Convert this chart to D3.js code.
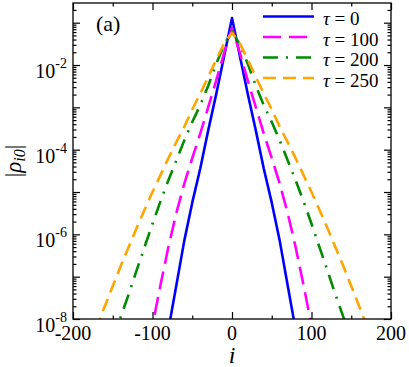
<!DOCTYPE html>
<html>
<head>
<meta charset="utf-8">
<script src="https://cdn.jsdelivr.net/npm/d3@7"></script>
<style>
  html, body { margin: 0; padding: 0; background: #fff; }
  svg { display: block; }
  svg text, svg tspan { font-family: "Liberation Serif"; }
</style>
</head>
<body>
<svg id="chart" width="409" height="367"></svg>
<script>
// ---- data ----
const sites = d3.range(-180, 181, 10);
const tauLabels = ["0", "100", "200", "250"];
const rhoTau0 = [null,null,null,null,null,null,null,null,null,
  5.0e-10,5.6e-9,6.3e-8,7.1e-7,5.6e-6,3.55e-5,2.82e-4,2.0e-3,1.58e-2,
  0.129,
  1.58e-2,2.0e-3,2.82e-4,3.55e-5,5.6e-6,7.1e-7,6.3e-8,5.6e-9,5.0e-10,
  null,null,null,null,null,null,null,null,null];
const rhoTau100 = [null,null,null,null,null,null,null,
  7.9e-10,7.1e-9,6.3e-8,5.0e-7,3.2e-6,1.58e-5,6.3e-5,2.4e-4,1.0e-3,4.2e-3,1.9e-2,
  7.6e-2,
  1.9e-2,4.2e-3,1.0e-3,2.4e-4,6.3e-5,1.58e-5,3.2e-6,5.0e-7,6.3e-8,7.1e-9,7.9e-10,
  null,null,null,null,null,null,null];
const rhoTau200 = [null,null,null,
  3.2e-9,1.12e-8,3.8e-8,1.41e-7,5.0e-7,1.78e-6,6.0e-6,1.9e-5,5.6e-5,1.66e-4,4.5e-4,1.12e-3,3.2e-3,1.05e-2,3.0e-2,
  6.3e-2,
  3.0e-2,1.05e-2,3.2e-3,1.12e-3,4.5e-4,1.66e-4,5.6e-5,1.9e-5,6.0e-6,1.78e-6,5.0e-7,1.41e-7,3.8e-8,1.12e-8,3.2e-9,
  null,null,null];
const rhoTau250 = [
  2.0e-9,6.6e-9,2.0e-8,6.0e-8,1.78e-7,5.0e-7,1.41e-6,3.8e-6,1.0e-5,2.5e-5,6.3e-5,1.51e-4,3.5e-4,8.9e-4,2.1e-3,5.2e-3,1.32e-2,3.2e-2,
  5.8e-2,
  3.2e-2,1.32e-2,5.2e-3,2.1e-3,8.9e-4,3.5e-4,1.51e-4,6.3e-5,2.5e-5,1.0e-5,3.8e-6,1.41e-6,5.0e-7,1.78e-7,6.0e-8,2.0e-8,6.6e-9,2.0e-9];
const xTicks = [-200, -100, 0, 100, 200];
const xMinorTicks = [-150, -50, 50, 150];
const yLabelExps = [-8, -6, -4, -2];

// ---- layout ----
const FONT = "Liberation Serif";
const svg = d3.select("#chart");
const L = 73, R = 391, T = 3, B = 319;
const x = d3.scaleLinear().domain([-200, 200]).range([L, R]);
const y = d3.scaleLog().domain([1e-8, Math.pow(10, -0.535)]).range([B, T]);

const seriesList = [
  { vals: rhoTau0,   color: "#0000ff", dash: null },
  { vals: rhoTau100, color: "#ff00ff", dash: "18,8" },
  { vals: rhoTau200, color: "#008b00", dash: "15,8,2,8" },
  { vals: rhoTau250, color: "#ffa500", dash: "13,7" }
];

svg.append("defs").append("clipPath").attr("id", "clip")
  .append("rect").attr("x", L).attr("y", T).attr("width", R - L).attr("height", B - T);

const line = d3.line()
  .defined(d => d.v != null)
  .x(d => x(d.i))
  .y(d => y(d.v));

const plot = svg.append("g").attr("clip-path", "url(#clip)");
seriesList.forEach(s => {
  const pts = sites.map((i, k) => ({ i: i, v: s.vals[k] }));
  plot.append("path")
    .datum(pts)
    .attr("d", line)
    .attr("fill", "none")
    .attr("stroke", s.color)
    .attr("stroke-width", 2.6)
    .attr("stroke-dasharray", s.dash)
    .attr("stroke-linejoin", "round");
});

// ---- axes ----
const majorLen = 7, minorLen = 3.5;
function tickAxis(axisFn, scale, vals, len) {
  return axisFn(scale).tickValues(vals).tickSize(len).tickFormat("");
}
const yMajor = d3.range(-8, 0).map(e => Math.pow(10, e));
const yMinor = [];
for (let e = -9; e <= -1; e++) for (let m = 2; m <= 9; m++) {
  const v = m * Math.pow(10, e);
  if (v >= 1e-8 && v <= y.domain()[1]) yMinor.push(v);
}
const axes = svg.append("g");
function styleAxis(g) {
  g.select(".domain").remove();
  g.selectAll("line").attr("stroke", "#000").attr("stroke-width", 1.2);
}
axes.append("g").attr("transform", `translate(0,${B})`)
  .call(tickAxis(d3.axisTop, x, xTicks, majorLen)).call(styleAxis);
axes.append("g").attr("transform", `translate(0,${B})`)
  .call(tickAxis(d3.axisTop, x, xMinorTicks, minorLen)).call(styleAxis);
axes.append("g").attr("transform", `translate(0,${T})`)
  .call(tickAxis(d3.axisBottom, x, xTicks, majorLen)).call(styleAxis);
axes.append("g").attr("transform", `translate(0,${T})`)
  .call(tickAxis(d3.axisBottom, x, xMinorTicks, minorLen)).call(styleAxis);
axes.append("g").attr("transform", `translate(${L},0)`)
  .call(tickAxis(d3.axisRight, y, yMajor, majorLen)).call(styleAxis);
axes.append("g").attr("transform", `translate(${L},0)`)
  .call(tickAxis(d3.axisRight, y, yMinor, minorLen)).call(styleAxis);
axes.append("g").attr("transform", `translate(${R},0)`)
  .call(tickAxis(d3.axisLeft, y, yMajor, majorLen)).call(styleAxis);
axes.append("g").attr("transform", `translate(${R},0)`)
  .call(tickAxis(d3.axisLeft, y, yMinor, minorLen)).call(styleAxis);

svg.append("rect").attr("x", L).attr("y", T).attr("width", R - L).attr("height", B - T)
  .attr("fill", "none").attr("stroke", "#000").attr("stroke-width", 1.3);

function serif(sel) { return sel.style("font-family", FONT).attr("font-family", FONT); }

// x tick labels
svg.append("g").selectAll("text").data(xTicks).join("text")
  .call(serif)
  .attr("x", d => x(d)).attr("y", 340)
  .attr("text-anchor", "middle").attr("font-size", 20)
  .text(d => d);

// y tick labels
const yl = svg.append("g").selectAll("text").data(yLabelExps).join("text")
  .call(serif)
  .attr("x", 67).attr("y", d => y(Math.pow(10, d)) + 13)
  .attr("text-anchor", "end").attr("font-size", 20);
yl.append("tspan").text("10");
yl.append("tspan").attr("dy", -10).attr("font-size", 14).text(d => "" + d);

// axis titles
svg.append("text").call(serif).attr("x", x(0)).attr("y", 363)
  .attr("text-anchor", "middle").attr("font-size", 24).attr("font-style", "italic")
  .text("i");

const ylab = svg.append("text").call(serif)
  .attr("transform", `translate(21,${(T + B) / 2}) rotate(-90)`)
  .attr("text-anchor", "middle").attr("font-size", 23);
ylab.append("tspan").text("|");
ylab.append("tspan").attr("font-style", "italic").text("ρ");
ylab.append("tspan").attr("font-style", "italic").attr("font-size", 16).attr("dy", 4).text("i0");
ylab.append("tspan").attr("dy", -4).text("|");

// panel label
svg.append("text").call(serif).attr("x", 96).attr("y", 31).attr("font-size", 22).text("(a)");

// legend
const legY = [16.5, 37, 57.5, 78];
const leg = svg.append("g");
seriesList.forEach((s, k) => {
  leg.append("line")
    .attr("x1", 263).attr("x2", 314).attr("y1", legY[k]).attr("y2", legY[k])
    .attr("stroke", s.color).attr("stroke-width", 2.6)
    .attr("stroke-dasharray", s.dash);
  const t = leg.append("text").call(serif)
    .attr("x", 323).attr("y", legY[k] + 8.5).attr("font-size", 19);
  t.append("tspan").attr("font-style", "italic").text("τ");
  t.append("tspan").text(" = " + tauLabels[k]);
});
</script>
</body>
</html>
